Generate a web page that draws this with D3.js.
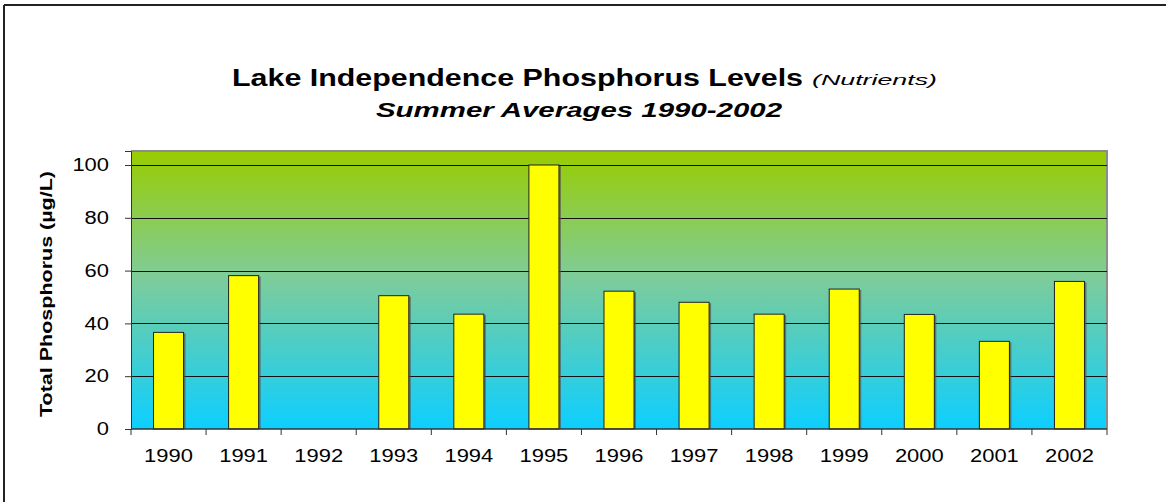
<!DOCTYPE html>
<html>
<head>
<meta charset="utf-8">
<script src="https://cdn.jsdelivr.net/npm/d3@7"></script>
<style>
  body { margin: 0; background: #fff; }
  svg text { font-family: Arial, "Liberation Sans", sans-serif; }
</style>
</head>
<body>
<div id="chart"></div>
<script>
// data
var years = ["1990", "1991", "1992", "1993", "1994", "1995", "1996", "1997", "1998", "1999", "2000", "2001", "2002"];
var phosphorus = [36.6, 58.1, null, 50.5, 43.5, 100, 52.2, 48, 43.5, 53, 43.4, 33.2, 55.9];
var yTicks = [0, 20, 40, 60, 80, 100];

var W = 1166, H = 502;
var plot = { left: 131, right: 1107, top: 151, bottom: 429 };
var digitW = 12.2; // the reference draws text wide, so stretch it

var svg = d3.select("#chart").append("svg")
  .attr("width", W).attr("height", H);

// outer frame (only top and left visible)
svg.append("line").attr("x1", 4).attr("y1", 5).attr("x2", W).attr("y2", 5)
  .attr("stroke", "#222").attr("stroke-width", 2);
svg.append("line").attr("x1", 4).attr("y1", 5).attr("x2", 4).attr("y2", H)
  .attr("stroke", "#222").attr("stroke-width", 2);

// titles
svg.append("text").attr("x", 232).attr("y", 86)
  .attr("font-size", 23).attr("font-weight", "bold")
  .attr("textLength", 571).attr("lengthAdjust", "spacingAndGlyphs")
  .text("Lake Independence Phosphorus Levels");
svg.append("text").attr("x", 812).attr("y", 85)
  .attr("font-size", 15).attr("font-style", "italic")
  .attr("textLength", 125).attr("lengthAdjust", "spacingAndGlyphs")
  .text("(Nutrients)");
svg.append("text").attr("x", 376).attr("y", 117)
  .attr("font-size", 20).attr("font-weight", "bold").attr("font-style", "italic")
  .attr("textLength", 406).attr("lengthAdjust", "spacingAndGlyphs")
  .text("Summer Averages 1990-2002");

var x = d3.scaleBand().domain(years)
  .range([plot.left, plot.right]).paddingInner(0.6).paddingOuter(0.3);
var xTick = d3.scaleBand().domain(years).range([plot.left, plot.right]);
var y = d3.scaleLinear().domain([0, 105.3]).range([plot.bottom, plot.top]);

// gradient background
var grad = svg.append("defs").append("linearGradient")
  .attr("id", "bg").attr("x1", 0).attr("y1", 0).attr("x2", 0).attr("y2", 1);
grad.append("stop").attr("offset", "0%").attr("stop-color", "#99cc00");
grad.append("stop").attr("offset", "45%").attr("stop-color", "#7fcc99");
grad.append("stop").attr("offset", "100%").attr("stop-color", "#0ccfff");

svg.append("rect")
  .attr("x", plot.left).attr("y", plot.top)
  .attr("width", plot.right - plot.left).attr("height", plot.bottom - plot.top)
  .attr("fill", "url(#bg)");
// gray top/right border
svg.append("path")
  .attr("d", "M" + plot.left + "," + plot.top + "H" + plot.right + "V" + plot.bottom)
  .attr("fill", "none").attr("stroke", "#8c8c8c").attr("stroke-width", 2);

// grid lines
svg.append("g").selectAll("line").data(yTicks.slice(1)).enter().append("line")
  .attr("x1", plot.left).attr("x2", plot.right)
  .attr("y1", function(d) { return Math.round(y(d)) + 0.5; })
  .attr("y2", function(d) { return Math.round(y(d)) + 0.5; })
  .attr("stroke", "#111").attr("stroke-width", 1);

// bars with shadow
var data = years.map(function(yr, i) { return { year: yr, value: phosphorus[i] }; })
  .filter(function(d) { return d.value != null; });
svg.append("g").selectAll("rect").data(data).enter().append("rect")
  .attr("x", function(d) { return x(d.year) + 2; })
  .attr("y", function(d) { return y(d.value) + 1; })
  .attr("width", x.bandwidth())
  .attr("height", function(d) { return y(0) - y(d.value) - 1; })
  .attr("fill", "#555").attr("opacity", 0.7);
svg.append("g").selectAll("rect").data(data).enter().append("rect")
  .attr("x", function(d) { return x(d.year); })
  .attr("y", function(d) { return y(d.value); })
  .attr("width", x.bandwidth())
  .attr("height", function(d) { return y(0) - y(d.value); })
  .attr("fill", "#ffff00").attr("stroke", "#222").attr("stroke-width", 1);

// y axis
var yAxis = svg.append("g").attr("transform", "translate(" + plot.left + ",0)")
  .call(d3.axisLeft(y).tickValues(yTicks).tickSize(6).tickPadding(16));
yAxis.select(".domain").attr("stroke", "#333");
yAxis.selectAll(".tick line").attr("stroke", "#333");
yAxis.selectAll("text").attr("font-size", 18).attr("fill", "#000")
  .attr("font-family", "Arial, 'Liberation Sans', sans-serif")
  .attr("textLength", function(d) { return String(d).length * digitW; })
  .attr("lengthAdjust", "spacingAndGlyphs");

// x axis
var xAxis = svg.append("g").attr("transform", "translate(0," + plot.bottom + ")");
xAxis.append("line").attr("x1", plot.left).attr("x2", plot.right)
  .attr("stroke", "#333").attr("stroke-width", 1.5);
var edges = years.map(function(d) { return xTick(d); }).concat([plot.right]);
xAxis.selectAll(".tk").data(edges).enter().append("line")
  .attr("x1", function(d) { return d; }).attr("x2", function(d) { return d; })
  .attr("y1", 0).attr("y2", 6).attr("stroke", "#333");
xAxis.selectAll("text").data(years).enter().append("text")
  .attr("x", function(d) { return xTick(d) + xTick.bandwidth() / 2; })
  .attr("y", 33).attr("text-anchor", "middle").attr("font-size", 18)
  .attr("textLength", function(d) { return d.length * digitW; })
  .attr("lengthAdjust", "spacingAndGlyphs")
  .text(function(d) { return d; });

// y axis title
svg.append("text")
  .attr("transform", "translate(52,294) rotate(-90)")
  .attr("text-anchor", "middle").attr("font-size", 17).attr("font-weight", "bold")
  .attr("textLength", 246).attr("lengthAdjust", "spacingAndGlyphs")
  .text("Total Phosphorus (µg/L)");
</script>
</body>
</html>
